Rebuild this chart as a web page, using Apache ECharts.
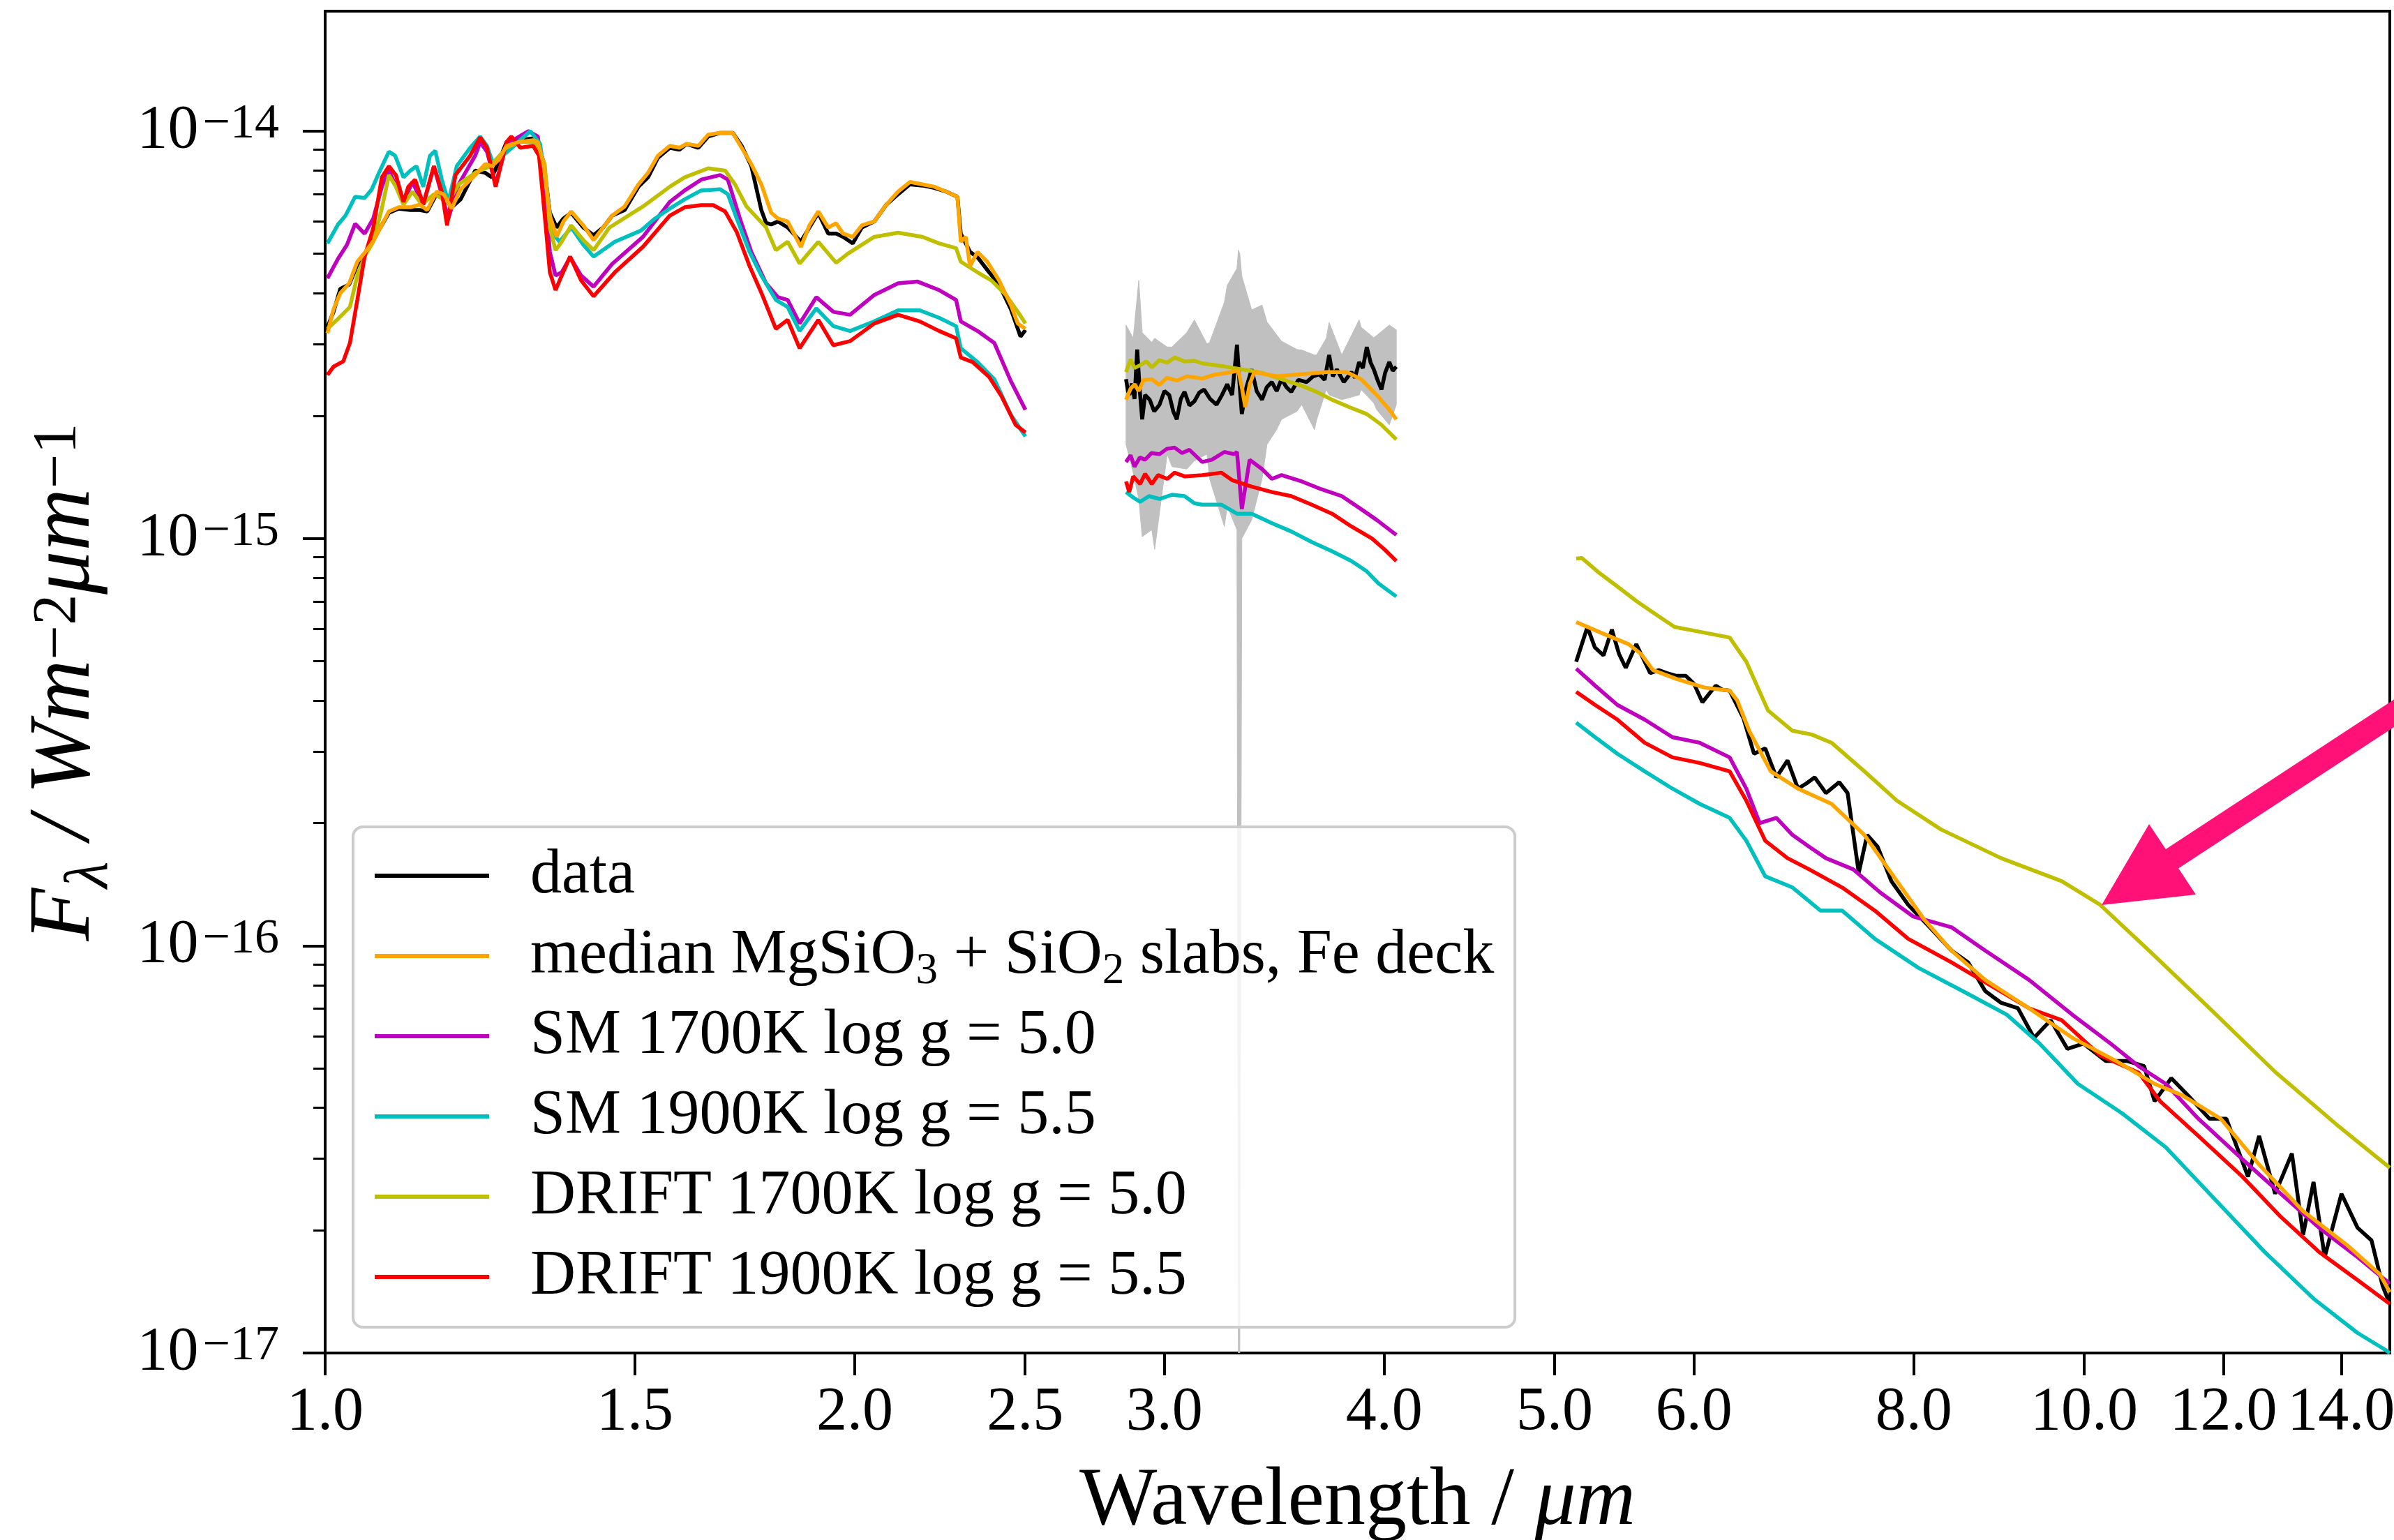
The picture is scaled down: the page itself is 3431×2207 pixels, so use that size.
<!DOCTYPE html>
<html>
<head>
<meta charset="utf-8">
<style>
  html, body { margin: 0; padding: 0; background: #ffffff; }
  #chart { width: 3431px; height: 2207px; }
</style>
<script src="https://cdn.jsdelivr.net/npm/echarts@6.0.0/dist/echarts.min.js"></script>
</head>
<body>
<div id="chart"></div>
<script>
// flux values below are in units of 1e-15 W m^-2 um^-1, wavelengths in um
// null marks the gap between the three instruments
const FLUX_UNIT = 1e-15;

const xTickValues = [1.0, 1.5, 2.0, 2.5, 3.0, 4.0, 5.0, 6.0, 8.0, 10.0, 12.0, 14.0];
const yMajorTicks = [1e-17, 1e-16, 1e-15, 1e-14];
const yMinorTicks = [2e-17, 3e-17, 4e-17, 5e-17, 6e-17, 7e-17, 8e-17, 9e-17,
  2e-16, 3e-16, 4e-16, 5e-16, 6e-16, 7e-16, 8e-16, 9e-16,
  2e-15, 3e-15, 4e-15, 5e-15, 6e-15, 7e-15, 8e-15, 9e-15];

const seriesNames = ["data", "median MgSiO3 + SiO2 slabs, Fe deck", "SM 1700K log g = 5.0",
  "SM 1900K log g = 5.5", "DRIFT 1700K log g = 5.0", "DRIFT 1900K log g = 5.5"];

const obsPoints = [
  [1.003,3.3],[1.011,3.6],[1.020,4.1],[1.032,4.2],[1.043,4.7],[1.054,5.0],[1.066,5.45],[1.087,6.3],[1.101,6.45],[1.118,6.4],
  [1.132,6.4],[1.143,6.35],[1.157,7.0],[1.168,6.9],[1.180,6.5],[1.194,6.8],[1.217,8.0],[1.233,7.9],[1.244,7.7],[1.255,8.4],
  [1.268,9.4],[1.288,9.5],[1.313,9.6],[1.321,9.3],[1.331,8.4],[1.342,6.3],[1.354,5.8],[1.366,6.1],[1.380,6.3],[1.402,5.8],
  [1.421,5.55],[1.439,5.8],[1.456,6.2],[1.480,6.4],[1.507,7.3],[1.526,7.7],[1.546,8.6],[1.570,9.1],[1.590,9.0],[1.605,9.3],
  [1.630,9.1],[1.651,9.7],[1.677,9.9],[1.705,9.9],[1.725,9.2],[1.747,8.2],[1.770,6.4],[1.781,5.95],[1.793,5.9],[1.809,6.0],
  [1.832,5.8],[1.864,5.35],[1.885,5.8],[1.907,6.3],[1.932,5.6],[1.952,5.6],[1.970,5.5],[1.995,5.3],[2.019,5.8],[2.052,6.0],
  [2.085,6.6],[2.117,7.0],[2.150,7.4],[2.186,7.35],[2.220,7.25],[2.255,7.1],[2.288,6.9],[2.298,5.6],[2.313,5.3],[2.326,5.05],
  [2.349,4.9],[2.385,4.5],[2.416,4.2],[2.454,3.65],[2.485,3.13],[2.501,3.25],
  null,
  [2.853,2.46],[2.860,2.30],[2.866,2.25],[2.875,2.40],[2.885,2.20],[2.895,2.91],[2.905,2.30],[2.914,1.96],[2.925,2.25],[2.943,2.19],
  [2.960,2.05],[2.981,2.13],[3.000,2.30],[3.019,2.25],[3.035,2.05],[3.049,1.96],[3.065,2.20],[3.080,2.29],[3.100,2.12],[3.120,2.17],
  [3.140,2.28],[3.160,2.32],[3.185,2.20],[3.212,2.13],[3.235,2.25],[3.257,2.39],[3.278,2.25],[3.299,2.99],[3.310,2.40],[3.320,2.02],
  [3.340,2.35],[3.363,2.60],[3.385,2.30],[3.409,2.19],[3.430,2.35],[3.453,2.42],[3.475,2.30],[3.497,2.46],[3.520,2.35],[3.542,2.29],
  [3.575,2.45],[3.614,2.42],[3.645,2.50],[3.674,2.53],[3.700,2.45],[3.722,2.82],[3.740,2.50],[3.760,2.60],[3.794,2.42],[3.832,2.56],
  [3.850,2.48],[3.871,2.71],[3.890,2.62],[3.910,2.95],[3.930,2.70],[3.946,2.60],[3.965,2.45],[3.986,2.32],[4.005,2.55],[4.027,2.71],
  [4.045,2.58],[4.064,2.64],
  null,
  [5.143,0.498],[5.219,0.606],[5.270,0.54],[5.330,0.516],[5.389,0.597],[5.440,0.52],[5.488,0.481],[5.564,0.55],[5.666,0.467],[5.730,0.475],
  [5.791,0.467],[5.860,0.46],[5.936,0.46],[6.000,0.44],[6.067,0.396],[6.173,0.435],[6.230,0.425],[6.287,0.423],[6.403,0.361],[6.491,0.296],
  [6.587,0.305],[6.684,0.259],[6.782,0.285],[6.876,0.243],[6.950,0.25],[7.028,0.259],[7.132,0.237],[7.257,0.252],[7.337,0.237],[7.445,0.151],
  [7.527,0.187],[7.631,0.175],[7.770,0.144],[7.942,0.126],[8.170,0.111],[8.405,0.0973],[8.591,0.091],[8.785,0.0774],[8.971,0.0724],[9.170,0.0702],
  [9.365,0.0594],[9.571,0.0656],[9.783,0.0558],[9.991,0.0575],[10.287,0.0521],[10.582,0.0521],[10.817,0.0506],[10.966,0.0415],[11.208,0.0473],[11.456,0.0429],
  [11.784,0.0376],[12.046,0.0376],[12.392,0.0271],[12.574,0.0341],[12.840,0.0246],[13.125,0.0309],[13.319,0.0195],[13.502,0.0263],[13.701,0.0172],[14.005,0.0246],
  [14.303,0.0203],[14.567,0.0189],[14.781,0.0146],[14.92,0.0132]
];

const medianPoints = [
  [1.003,3.19],[1.011,3.65],[1.020,4.0],[1.032,4.23],[1.043,4.78],[1.054,5.05],[1.066,5.4],[1.087,6.35],[1.101,6.5],[1.118,6.5],
  [1.132,6.6],[1.143,6.4],[1.157,7.1],[1.168,7.0],[1.180,6.45],[1.194,7.2],[1.217,7.8],[1.233,8.3],[1.244,8.2],[1.255,8.5],
  [1.268,9.2],[1.288,9.4],[1.313,9.5],[1.321,9.4],[1.331,8.3],[1.342,6.2],[1.354,5.5],[1.366,6.0],[1.380,6.35],[1.402,5.87],
  [1.421,5.4],[1.439,5.8],[1.456,6.2],[1.480,6.53],[1.507,7.4],[1.526,7.9],[1.546,8.7],[1.570,9.2],[1.590,9.1],[1.605,9.3],
  [1.630,9.2],[1.651,9.8],[1.677,9.9],[1.705,9.9],[1.725,9.1],[1.747,8.3],[1.770,7.4],[1.793,6.3],[1.809,6.1],[1.832,6.0],
  [1.864,5.2],[1.885,5.87],[1.907,6.35],[1.932,5.8],[1.952,5.94],[1.970,5.6],[1.995,5.5],[2.019,5.87],[2.052,6.0],[2.085,6.6],
  [2.117,7.1],[2.150,7.5],[2.186,7.4],[2.220,7.3],[2.255,7.1],[2.288,6.9],[2.298,5.35],[2.313,5.5],[2.326,4.66],[2.349,5.05],
  [2.379,4.78],[2.416,4.3],[2.454,3.74],[2.476,3.37],[2.501,3.27],
  null,
  [2.853,2.19],[2.870,2.33],[2.885,2.39],[2.900,2.30],[2.920,2.45],[2.951,2.46],[2.980,2.38],[3.010,2.48],[3.049,2.44],[3.090,2.50],
  [3.152,2.47],[3.200,2.52],[3.257,2.55],[3.305,2.58],[3.320,2.35],[3.335,2.10],[3.355,2.40],[3.375,2.56],[3.475,2.50],[3.591,2.53],
  [3.708,2.56],[3.808,2.56],[3.881,2.46],[3.961,2.25],[4.027,2.07],[4.064,1.96],
  null,
  [5.143,0.623],[5.311,0.587],[5.508,0.55],[5.600,0.52],[5.687,0.475],[5.871,0.451],[6.089,0.43],[6.287,0.423],[6.350,0.40],[6.450,0.337],
  [6.635,0.268],[6.876,0.243],[7.184,0.223],[7.500,0.187],[7.827,0.144],[8.110,0.116],[8.405,0.0973],[8.785,0.0824],[9.305,0.0702],[9.846,0.0594],
  [10.429,0.0521],[10.966,0.0458],[11.372,0.0429],[11.958,0.0376],[12.574,0.029],[13.319,0.0223],[14.108,0.0184],[14.728,0.0156],[14.92,0.0141]
];

const sm1700Points = [
  [1.003,4.35],[1.017,4.86],[1.029,5.26],[1.040,5.92],[1.053,5.6],[1.065,6.1],[1.077,7.3],[1.087,8.0],[1.108,6.7],[1.121,7.5],
  [1.137,6.6],[1.153,8.2],[1.175,6.1],[1.191,7.4],[1.217,8.7],[1.225,9.4],[1.236,8.9],[1.250,7.4],[1.268,9.3],[1.305,10.0],
  [1.321,9.7],[1.333,7.4],[1.342,5.05],[1.352,4.42],[1.363,4.5],[1.378,4.9],[1.398,4.42],[1.421,4.15],[1.456,4.72],[1.516,5.5],
  [1.570,6.7],[1.601,7.15],[1.636,7.6],[1.677,7.8],[1.694,7.6],[1.721,6.1],[1.747,5.05],[1.781,4.23],[1.809,3.91],[1.832,3.85],
  [1.861,3.37],[1.902,3.91],[1.945,3.6],[1.988,3.54],[2.052,3.96],[2.117,4.23],[2.172,4.27],[2.234,4.07],[2.284,3.85],[2.298,3.41],
  [2.349,3.23],[2.401,3.02],[2.454,2.43],[2.501,2.07],
  null,
  [2.853,1.54],[2.870,1.60],[2.885,1.50],[2.905,1.58],[2.925,1.56],[2.950,1.62],[2.981,1.61],[3.010,1.66],[3.041,1.67],[3.070,1.62],
  [3.100,1.65],[3.152,1.54],[3.192,1.56],[3.245,1.63],[3.287,1.61],[3.299,1.63],[3.320,1.18],[3.354,1.56],[3.409,1.48],[3.453,1.40],
  [3.497,1.43],[3.591,1.38],[3.685,1.32],[3.784,1.27],[3.881,1.18],[3.961,1.11],[4.064,1.02],
  null,
  [5.143,0.479],[5.272,0.435],[5.428,0.39],[5.625,0.359],[5.834,0.325],[6.045,0.315],[6.287,0.29],[6.426,0.243],[6.539,0.20],[6.684,0.206],
  [6.826,0.187],[6.977,0.175],[7.132,0.164],[7.391,0.154],[7.659,0.135],[7.993,0.118],[8.405,0.111],[8.785,0.0973],[9.305,0.0824],[9.846,0.0677],
  [10.353,0.0575],[10.738,0.0506],[11.127,0.0458],[11.613,0.0376],[12.301,0.0299],[12.935,0.0246],[13.601,0.0203],[14.303,0.0172],[14.92,0.0148]
];

const sm1900Points = [
  [1.003,5.3],[1.017,5.9],[1.027,6.2],[1.040,6.9],[1.053,6.85],[1.063,7.2],[1.073,7.9],[1.087,8.9],[1.096,8.7],[1.108,7.7],
  [1.118,8.0],[1.127,8.2],[1.137,7.3],[1.147,8.7],[1.155,8.95],[1.165,7.6],[1.175,6.7],[1.188,8.2],[1.209,9.1],[1.225,9.7],
  [1.236,9.2],[1.246,8.3],[1.273,9.0],[1.308,10.0],[1.325,9.3],[1.337,7.1],[1.346,5.65],[1.359,5.35],[1.380,5.8],[1.402,5.26],
  [1.421,4.92],[1.461,5.35],[1.512,5.7],[1.540,6.1],[1.570,6.45],[1.601,6.8],[1.636,7.15],[1.677,7.2],[1.694,7.0],[1.714,6.1],
  [1.743,5.05],[1.770,4.42],[1.804,3.85],[1.832,3.7],[1.861,3.23],[1.902,3.67],[1.945,3.32],[1.988,3.23],[2.052,3.41],[2.117,3.63],
  [2.178,3.63],[2.234,3.48],[2.284,3.32],[2.298,2.93],[2.349,2.71],[2.401,2.46],[2.454,2.01],[2.501,1.78],
  null,
  [2.853,1.30],[2.880,1.26],[2.906,1.23],[2.940,1.27],[2.981,1.25],[3.030,1.28],[3.080,1.27],[3.120,1.22],[3.152,1.21],[3.233,1.21],
  [3.299,1.15],[3.363,1.15],[3.453,1.09],[3.542,1.04],[3.638,0.98],[3.736,0.93],[3.832,0.88],[3.910,0.83],[3.972,0.774],[4.064,0.72],
  null,
  [5.143,0.353],[5.272,0.325],[5.428,0.296],[5.625,0.268],[5.834,0.243],[6.045,0.223],[6.287,0.206],[6.426,0.181],[6.587,0.148],[6.826,0.139],
  [7.080,0.122],[7.284,0.122],[7.603,0.104],[8.051,0.0882],[8.529,0.0774],[9.037,0.0677],[9.434,0.0575],[9.918,0.0458],[10.506,0.0388],[11.127,0.032],
  [11.870,0.0238],[12.666,0.0177],[13.502,0.0136],[14.303,0.0112],[14.822,0.0102],[14.92,0.0100]
];

const drift1700Points = [
  [1.003,3.27],[1.017,3.46],[1.033,3.7],[1.043,4.42],[1.053,4.92],[1.065,5.35],[1.077,6.45],[1.087,7.8],[1.097,7.3],[1.108,6.6],
  [1.121,7.1],[1.135,6.6],[1.153,7.0],[1.175,6.7],[1.191,7.4],[1.217,7.9],[1.241,8.2],[1.268,9.1],[1.288,9.4],[1.316,9.4],
  [1.333,8.3],[1.342,5.8],[1.352,5.1],[1.363,5.35],[1.380,5.87],[1.402,5.4],[1.421,5.1],[1.451,5.8],[1.516,6.53],[1.570,7.3],
  [1.601,7.7],[1.651,8.1],[1.688,8.0],[1.710,7.4],[1.736,6.53],[1.781,5.8],[1.804,5.1],[1.832,5.35],[1.861,4.73],[1.907,5.35],
  [1.952,4.75],[1.982,5.0],[2.052,5.5],[2.117,5.63],[2.186,5.5],[2.234,5.3],[2.284,5.16],[2.298,4.78],[2.349,4.5],[2.392,4.3],
  [2.438,3.96],[2.476,3.6],[2.501,3.37],
  null,
  [2.853,2.56],[2.870,2.75],[2.885,2.62],[2.905,2.66],[2.930,2.72],[2.951,2.63],[2.980,2.74],[3.011,2.70],[3.040,2.78],[3.080,2.72],
  [3.120,2.73],[3.152,2.69],[3.233,2.65],[3.320,2.60],[3.409,2.55],[3.497,2.46],[3.591,2.37],[3.661,2.29],[3.736,2.19],[3.822,2.10],
  [3.910,2.02],[3.986,1.90],[4.064,1.75],
  null,
  [5.143,0.892],[5.181,0.895],[5.291,0.828],[5.428,0.762],[5.564,0.702],[5.687,0.658],[5.850,0.606],[6.045,0.59],[6.287,0.571],[6.426,0.498],
  [6.611,0.378],[6.826,0.337],[7.000,0.33],[7.184,0.315],[7.500,0.268],[7.827,0.227],[8.290,0.193],[8.971,0.164],[9.712,0.144],[10.212,0.126],
  [10.886,0.0973],[11.784,0.0702],[12.840,0.049],[13.903,0.0365],[14.92,0.0285]
];

const drift1900Points = [
  [1.003,2.52],[1.011,2.64],[1.024,2.72],[1.033,3.02],[1.043,3.85],[1.053,4.92],[1.065,5.78],[1.077,7.7],[1.087,8.2],[1.097,7.8],
  [1.108,6.7],[1.115,7.3],[1.125,7.6],[1.137,6.6],[1.153,8.2],[1.165,7.1],[1.173,5.87],[1.186,7.8],[1.209,8.7],[1.225,9.65],
  [1.236,9.1],[1.250,7.3],[1.268,9.4],[1.276,9.7],[1.291,9.1],[1.313,9.2],[1.323,8.7],[1.333,6.2],[1.342,4.5],[1.352,4.07],
  [1.363,4.42],[1.378,4.92],[1.398,4.3],[1.421,3.93],[1.461,4.5],[1.516,5.2],[1.570,6.2],[1.601,6.5],[1.636,6.58],[1.662,6.58],
  [1.688,6.35],[1.714,5.65],[1.743,4.66],[1.770,4.01],[1.804,3.27],[1.832,3.44],[1.861,2.93],[1.907,3.44],[1.945,2.98],[1.988,3.05],
  [2.052,3.37],[2.117,3.54],[2.178,3.41],[2.234,3.23],[2.284,3.10],[2.298,2.78],[2.334,2.71],[2.385,2.49],[2.423,2.24],[2.469,1.90],
  [2.501,1.82],
  null,
  [2.853,1.38],[2.865,1.30],[2.880,1.42],[2.906,1.36],[2.925,1.44],[2.951,1.36],[2.975,1.43],[3.011,1.40],[3.040,1.45],[3.080,1.42],
  [3.152,1.43],[3.233,1.45],[3.278,1.39],[3.363,1.34],[3.453,1.30],[3.542,1.27],[3.638,1.21],[3.736,1.15],[3.832,1.07],[3.936,1.00],
  [4.001,0.94],[4.064,0.88],
  null,
  [5.143,0.42],[5.272,0.39],[5.428,0.359],[5.625,0.315],[5.834,0.29],[6.045,0.281],[6.287,0.268],[6.426,0.227],[6.587,0.181],[6.782,0.164],
  [6.977,0.154],[7.284,0.139],[7.603,0.122],[7.942,0.104],[8.405,0.091],[8.849,0.0798],[9.305,0.0702],[9.712,0.0656],[10.212,0.0538],[10.738,0.0488],
  [11.046,0.0415],[11.613,0.0341],[12.301,0.0271],[12.935,0.0216],[13.601,0.0177],[14.303,0.0151],[14.92,0.0132]
];

// 1-sigma band of the data around 3 um: [wavelength, low, high]
const obsBand = [
  [2.853,1.70,3.34],[2.880,1.45,3.10],[2.901,1.25,4.30],[2.914,1.01,3.20],[2.951,1.05,3.03],[2.962,0.94,3.10],[3.011,1.61,2.95],
  [3.030,1.50,2.95],[3.089,1.48,3.20],[3.120,1.55,3.44],[3.172,1.61,3.00],[3.183,1.40,3.03],[3.245,1.07,3.80],[3.257,1.20,4.18],
  [3.299,1.05,4.60],[3.305,0.01,5.10],[3.311,0.01,5.00],[3.320,1.00,4.40],[3.363,1.11,3.64],[3.409,1.40,3.74],[3.431,1.70,3.40],
  [3.475,1.85,3.16],[3.497,1.96,3.05],[3.568,2.05,2.91],[3.591,2.13,2.90],[3.651,1.85,2.82],[3.661,1.95,2.82],[3.708,2.32,3.10],
  [3.722,2.25,3.39],[3.784,2.19,2.82],[3.871,2.25,3.44],[3.881,2.32,3.30],[3.946,2.15,3.11],[3.961,2.07,3.15],[4.027,1.90,3.34],
  [4.064,2.13,3.25]
];

const FONT = "Liberation Serif";
const seriesColors = ["#000000", "#ffa500", "#bf00bf", "#00bfbf", "#bfbf00", "#ff0000"];
const seriesPoints = [obsPoints, medianPoints, sm1700Points, sm1900Points, drift1700Points, drift1900Points];

function toData(points) {
  return points.map(p => p ? [p[0], p[1] * FLUX_UNIT] : ["-", "-"]);
}

const chart = echarts.init(document.getElementById("chart"), null, { renderer: "canvas" });

const lineSeries = seriesNames.map((name, i) => ({
  name: name,
  type: "line",
  data: toData(seriesPoints[i]),
  symbol: "none",
  connectNulls: false,
  color: seriesColors[i],
  lineStyle: { color: seriesColors[i], width: 5.5 },
  z: i === 1 ? 4 : (i === 0 ? 2 : 3),
  emphasis: { disabled: true },
  silent: true
}));

const bandSeries = {
  type: "custom",
  silent: true,
  z: 1,
  clip: true,
  data: obsBand.map(b => [b[0], b[1] * FLUX_UNIT, b[2] * FLUX_UNIT]),
  encode: { x: 0, y: [1, 2] },
  renderItem: function (params, api) {
    if (params.dataIndex !== 0) return null;
    const upper = obsBand.map(b => api.coord([b[0], b[2] * FLUX_UNIT]));
    const lower = obsBand.map(b => api.coord([b[0], b[1] * FLUX_UNIT])).reverse();
    return {
      type: "polygon",
      shape: { points: upper.concat(lower) },
      style: { fill: "#c0c0c0", stroke: "#c0c0c0", lineWidth: 1 }
    };
  }
};

const option = {
  animation: false,
  backgroundColor: "#ffffff",
  textStyle: { fontFamily: FONT, color: "#000" },
  grid: {
    left: 466, right: 6, top: 16, bottom: 268,
    show: true, borderColor: "#000", borderWidth: 4, backgroundColor: "transparent",
    outerBoundsMode: "none"
  },
  xAxis: {
    type: "log",
    logBase: 10,
    min: 1.0,
    max: 14.92,
    name: "{r|Wavelength / }{i|\u03bcm}",
    nameLocation: "middle",
    nameGap: 155,
    nameTextStyle: {
      rich: {
        r: { fontFamily: FONT, fontSize: 118, color: "#000" },
        i: { fontFamily: FONT, fontSize: 118, fontStyle: "italic", color: "#000" }
      }
    },
    axisLine: { show: true, lineStyle: { color: "#000", width: 4 } },
    axisTick: { show: true, length: 32, lineStyle: { color: "#000", width: 4 }, customValues: xTickValues },
    axisLabel: {
      show: true, customValues: xTickValues, margin: 42,
      fontFamily: FONT, fontSize: 88, color: "#000",
      formatter: v => Number(v).toFixed(1)
    },
    splitLine: { show: false },
    minorTick: { show: false }
  },
  yAxis: [
    {
      type: "log",
      logBase: 10,
      min: 1e-17,
      max: 1.97e-14,
      name: "{i|F}{sub|\u03bb}{i| / Wm}{sup|\u22122}{i|\u03bcm}{sup|\u22121}",
      nameLocation: "middle",
      nameRotate: 90,
      nameGap: 318,
      nameTextStyle: {
        rich: {
          i: { fontFamily: FONT, fontSize: 124, fontStyle: "italic", color: "#000", lineHeight: 124, padding: [40, 0, 24, 0] },
          sub: { fontFamily: FONT, fontSize: 88, fontStyle: "italic", color: "#000", lineHeight: 88, verticalAlign: "top", padding: [62, 0, 0, 0] },
          sup: { fontFamily: FONT, fontSize: 88, color: "#000", lineHeight: 88, verticalAlign: "top", padding: [16, 0, 0, 0] }
        }
      },
      axisLine: { show: true, lineStyle: { color: "#000", width: 4 } },
      axisTick: { show: true, length: 32, lineStyle: { color: "#000", width: 4 }, customValues: yMajorTicks },
      axisLabel: {
        show: true, customValues: yMajorTicks, margin: 66,
        formatter: function (v) {
          const e = Math.round(Math.log10(v));
          return "{b|10}{s|\u2212" + (-e) + "}";
        },
        rich: {
          b: { fontFamily: FONT, fontSize: 88, color: "#000", lineHeight: 88, verticalAlign: "bottom", padding: [14, 0, 0, 0] },
          s: { fontFamily: FONT, fontSize: 70, color: "#000", lineHeight: 70, verticalAlign: "top", padding: [0, 0, 0, 6] }
        }
      },
      splitLine: { show: false },
      minorTick: { show: false }
    },
    {
      type: "log",
      logBase: 10,
      min: 1e-17,
      max: 1.97e-14,
      position: "left",
      axisLine: { show: false },
      axisTick: { show: true, length: 17, lineStyle: { color: "#000", width: 3 }, customValues: yMinorTicks },
      axisLabel: { show: false },
      splitLine: { show: false }
    }
  ],
  legend: {
    orient: "vertical",
    left: 506,
    top: 1185,
    padding: [16, 30, 18, 31],
    itemGap: 7,
    itemWidth: 164,
    itemHeight: 6,
    icon: "rect",
    backgroundColor: "rgba(255,255,255,0.8)",
    borderColor: "#cccccc",
    borderWidth: 4,
    borderRadius: 14,
    data: seriesNames,
    selectedMode: false,
    textStyle: {
      fontFamily: FONT, fontSize: 90, color: "#000", lineHeight: 108,
      padding: [0, 0, 0, 54],
      rich: {
        sub: { fontFamily: FONT, fontSize: 63, color: "#000", lineHeight: 63, verticalAlign: "bottom" }
      }
    },
    formatter: function (name) {
      if (name === seriesNames[1]) return "median MgSiO{sub|3} + SiO{sub|2} slabs, Fe deck";
      return name;
    }
  },
  graphic: [
    {
      type: "line", z: 100, silent: true,
      shape: { x1: 3445, y1: 1013, x2: 3108, y2: 1234 },
      style: { stroke: "#ff1178", lineWidth: 33 }
    },
    {
      type: "polygon", z: 100, silent: true,
      shape: { points: [[3012, 1297], [3080, 1181], [3147, 1282]] },
      style: { fill: "#ff1178" }
    }
  ],
  series: [bandSeries].concat(lineSeries)
};

chart.setOption(option);
</script>
</body>
</html>
